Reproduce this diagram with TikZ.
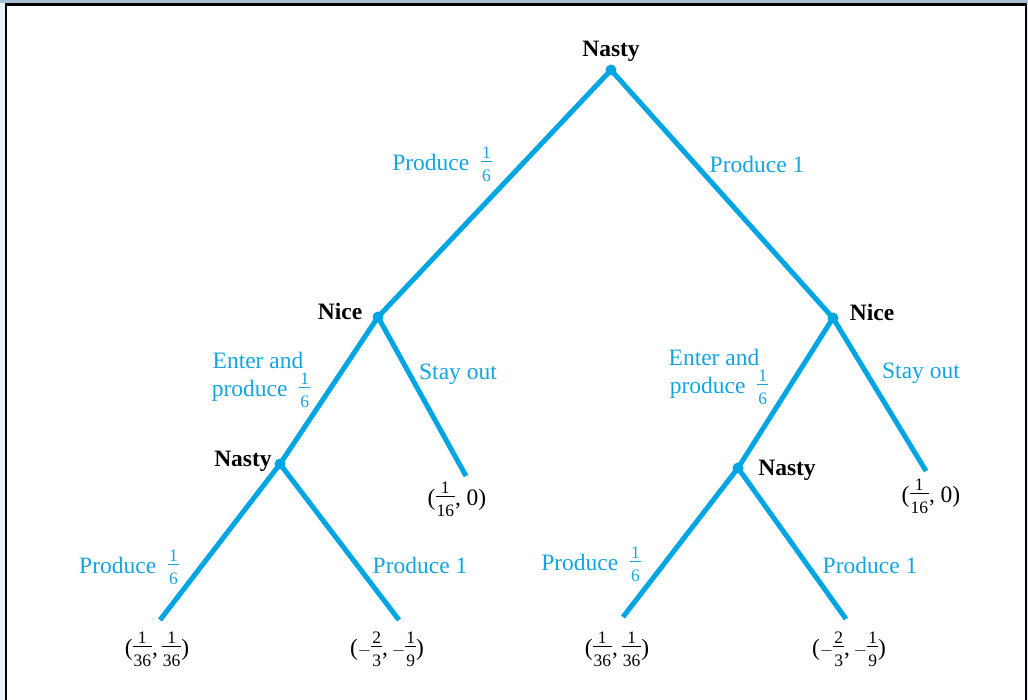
\documentclass[tikz,border=0pt]{standalone}
\usepackage{amsmath}
\usepackage{fontspec}
\setmainfont{Liberation Serif}
\definecolor{treeblue}{RGB}{0,166,228}
\definecolor{labblue}{RGB}{20,165,225}
\definecolor{outbg}{RGB}{232,243,252}
\definecolor{topbg}{RGB}{170,190,210}
\newcommand{\fr}[2]{$\vcenter{\fontsize{17.5}{17.5}\selectfont\offinterlineskip
  \halign{\hfil\kern1pt##\kern1pt\hfil\cr #1\cr\noalign{\kern3pt\hrule height 0.7pt\kern8pt}#2\cr}}$}
\newcommand{\mn}{{\fontsize{18}{18}\selectfont$-$}}
\tikzset{
  branch/.style={draw=treeblue, line width=5pt},
  dotnode/.style={circle, fill=treeblue, inner sep=0pt, minimum size=11pt},
  player/.style={font=\fontsize{23.5}{28}\selectfont\bfseries, text=black, inner sep=0pt},
  act/.style={font=\fontsize{23.5}{28}\selectfont, text=labblue, inner sep=0pt, align=center},
  pay/.style={font=\fontsize{23.5}{28}\selectfont, text=black, inner sep=0pt}
}
\begin{document}
\begin{tikzpicture}[x=1pt,y=-1pt]
\useasboundingbox (0,0) rectangle (1028,700);
\fill[outbg] (0,0) rectangle (1028,700);
\fill[topbg] (0,0) rectangle (1028,3);
\fill[white, draw=black, line width=2.2pt] (6,4.5) rectangle (1026,712);

% decision nodes
\node[dotnode] (n0) at (611,70) {};
\node[dotnode] (n1) at (378,317) {};
\node[dotnode] (n2) at (833,318) {};
\node[dotnode] (n3) at (280,464) {};
\node[dotnode] (n4) at (738,468) {};
% ends
\coordinate (e1) at (466,476);
\coordinate (e2) at (926,471);
\coordinate (l1) at (160,620);
\coordinate (l2) at (399,620);
\coordinate (l3) at (623,617);
\coordinate (l4) at (846,619);

% branches
\draw[branch] (n0.center) -- (n1.center);
\draw[branch] (n0.center) -- (n2.center);
\draw[branch] (n1.center) -- (n3.center);
\draw[branch] (n1.center) -- (e1);
\draw[branch] (n2.center) -- (n4.center);
\draw[branch] (n2.center) -- (e2);
\draw[branch] (n3.center) -- (l1);
\draw[branch] (n3.center) -- (l2);
\draw[branch] (n4.center) -- (l3);
\draw[branch] (n4.center) -- (l4);

% player labels
\node[player] (p0) at (611,51) {Nasty};
\node[player] (p1) at (340,311) {Nice};
\node[player] (p2) at (872,312) {Nice};
\node[player] (p3) at (243,461) {Nasty};
\node[player] (p4) at (787,470) {Nasty};

% action labels
\node[act] (a1) at (442,164) {Produce \ \fr{1}{6}};
\node[act] (a2) at (757,164) {Produce 1};
\node[act] (a3) at (258,360) {Enter and};
\node[act] (a3b) at (261,390) {produce \ \fr{1}{6}};
\node[act] (a4) at (458,374) {Stay out};
\node[act] (a5) at (714,357) {Enter and};
\node[act] (a5b) at (719,387) {produce \ \fr{1}{6}};
\node[act] (a6) at (921,373) {Stay out};
\node[act] (a7) at (129,567) {Produce \ \fr{1}{6}};
\node[act] (a8) at (420,565) {Produce 1};
\node[act] (a9) at (591,564) {Produce \ \fr{1}{6}};
\node[act] (a10) at (870,565) {Produce 1};

% payoffs
\node[pay] (r1) at (457,499) {(\fr{1}{16}, 0)};
\node[pay] (r2) at (931,496) {(\fr{1}{16}, 0)};
\node[pay] (r3) at (157,649) {(\fr{1}{36},\,\fr{1}{36})};
\node[pay] (r4) at (387,649) {(\mn\fr{2}{3},\,\mn\fr{1}{9})};
\node[pay] (r5) at (617,649) {(\fr{1}{36},\,\fr{1}{36})};
\node[pay] (r6) at (849,649) {(\mn\fr{2}{3},\,\mn\fr{1}{9})};
\end{tikzpicture}
\end{document}
